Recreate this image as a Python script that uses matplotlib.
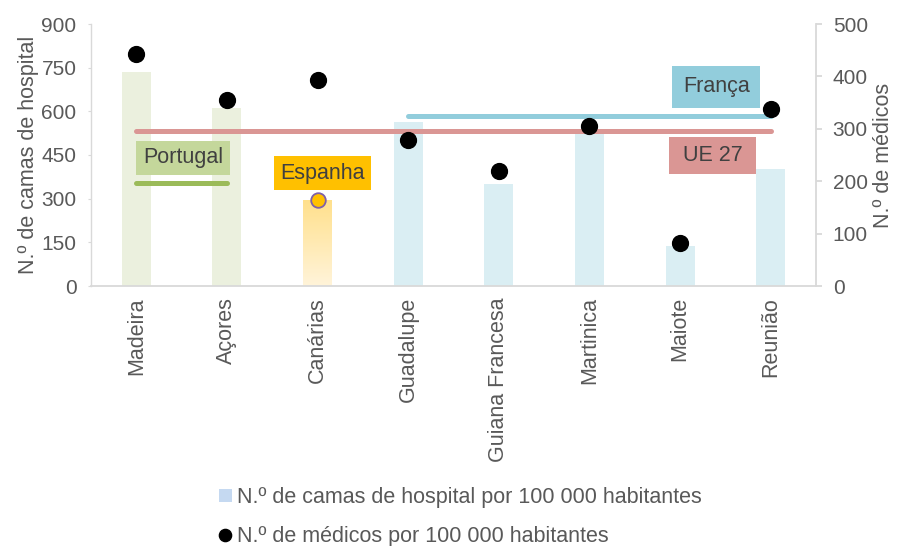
import numpy as np
import matplotlib
matplotlib.use("Agg")
import matplotlib.pyplot as plt
from matplotlib.lines import Line2D
from matplotlib.patches import Patch
from matplotlib.colors import LinearSegmentedColormap

plt.rcParams['font.family'] = ['Liberation Sans', 'DejaVu Sans']

regions = ["Madeira", "Açores", "Canárias", "Guadalupe", "Guiana Francesa",
           "Martinica", "Maiote", "Reunião"]
beds = [735, 611, 292, 563, 350, 526, 137, 402]
doctors = [443, 355, 393, 279, 219, 305, 82, 338]
country = ["PT", "PT", "ES", "FR", "FR", "FR", "FR", "FR"]

spain_doctors = 164
portugal_doctors = 196
france_doctors = 324
eu27_doctors = 296

bar_colors = {"PT": "#EBF0DE", "ES": "#FFE699", "FR": "#DAEEF3"}
text_color = "#595959"
grid_gray = "#D9D9D9"
FS = 15.5

fig = plt.figure(figsize=(8.99, 5.46), dpi=100)
ax = fig.add_axes([91 / 899, 1 - 286 / 546, 725 / 899, 262 / 546])
ax2 = ax.twinx()

x = np.arange(len(regions))
bars = ax.bar(x, beds, width=0.32, color=[bar_colors[c] for c in country], zorder=1)

# gradient for Canárias bar
cmap = LinearSegmentedColormap.from_list("g", ["#FFF4DA", "#FFE08C"])
b = bars[2]
b.set_facecolor("none")
grad = np.linspace(0, 1, 256).reshape(-1, 1)
ax.imshow(grad, extent=[b.get_x(), b.get_x() + b.get_width(), 0, b.get_height()],
          origin="lower", aspect="auto", cmap=cmap, zorder=1)

ax.set_xlim(-0.5, len(regions) - 0.5)
ax.set_ylim(0, 900)
ax.set_yticks(np.arange(0, 901, 150))
ax2.set_ylim(0, 500)
ax2.set_yticks(np.arange(0, 501, 100))

# reference lines (right axis)
lw = 3.6
ax2.plot([0, 7], [eu27_doctors] * 2, color="#DA9694", lw=lw, solid_capstyle="round", zorder=2)
ax2.plot([3, 7], [france_doctors] * 2, color="#92CDDC", lw=lw, solid_capstyle="round", zorder=2)
ax2.plot([0, 1], [portugal_doctors] * 2, color="#9BBB59", lw=lw, solid_capstyle="round", zorder=2)

ax2.scatter(x, doctors, s=130, color="black", zorder=4)
ax2.scatter([2], [spain_doctors], s=110, color="#FFC000", edgecolor="#7F60A8", linewidth=1.3, zorder=4)

# labels
def label(xc, yc, txt, fc, pad):
    ax2.text(xc, yc, txt, ha="center", va="center", fontsize=FS, color="#404040",
             bbox=dict(boxstyle="square,pad=" + str(pad), fc=fc, ec="none"), zorder=5)

label(0.515, 245, "Portugal", "#C4D79B", 0.3)
label(2.055, 215, "Espanha", "#FFC000", 0.3)
label(6.40, 380, "França", "#92CDDC", 0.5)
label(6.36, 249, " UE 27 ", "#DA9694", 0.36)

for a in (ax, ax2):
    for s in a.spines.values():
        s.set_visible(False)
ax.spines["bottom"].set_visible(True)
ax.spines["bottom"].set_color(grid_gray)
ax.spines["bottom"].set_linewidth(1.3)
ax.spines["left"].set_visible(True)
ax.spines["left"].set_color(grid_gray)
ax.spines["left"].set_linewidth(1.0)
ax2.spines["right"].set_visible(True)
ax2.spines["right"].set_color(grid_gray)
ax2.spines["right"].set_linewidth(1.3)

ax.set_xticks(x)
ax.set_xticklabels(regions, rotation=90, fontsize=FS, color=text_color)
ax.tick_params(axis="x", length=0, pad=8)
ax.tick_params(axis="y", length=2.5, color=grid_gray, labelsize=15, labelcolor=text_color, pad=8)
ax2.tick_params(axis="y", length=4, color=grid_gray, width=1.3, labelsize=15,
                labelcolor=text_color, pad=8)

ax.set_ylabel("N.º de camas de hospital", fontsize=FS, color=text_color, labelpad=2)
ax2.set_ylabel("N.º de médicos", fontsize=FS, color=text_color, labelpad=4)

h1 = Patch(facecolor="#C5D9F1", edgecolor="none")
h2 = Line2D([], [], marker="o", color="black", ls="none", markersize=8.8)
fig.legend([h1, h2],
           ["N.º de camas de hospital por 100 000 habitantes",
            "N.º de médicos por 100 000 habitantes"],
           loc="center left", bbox_to_anchor=(219 / 899, 1 - 517 / 546),
           frameon=False, fontsize=FS, borderaxespad=0, borderpad=0,
           handlelength=0.6, handleheight=0.5, handletextpad=0.22,
           labelspacing=0.82, labelcolor=text_color)

fig.savefig("out.png", dpi=100)
